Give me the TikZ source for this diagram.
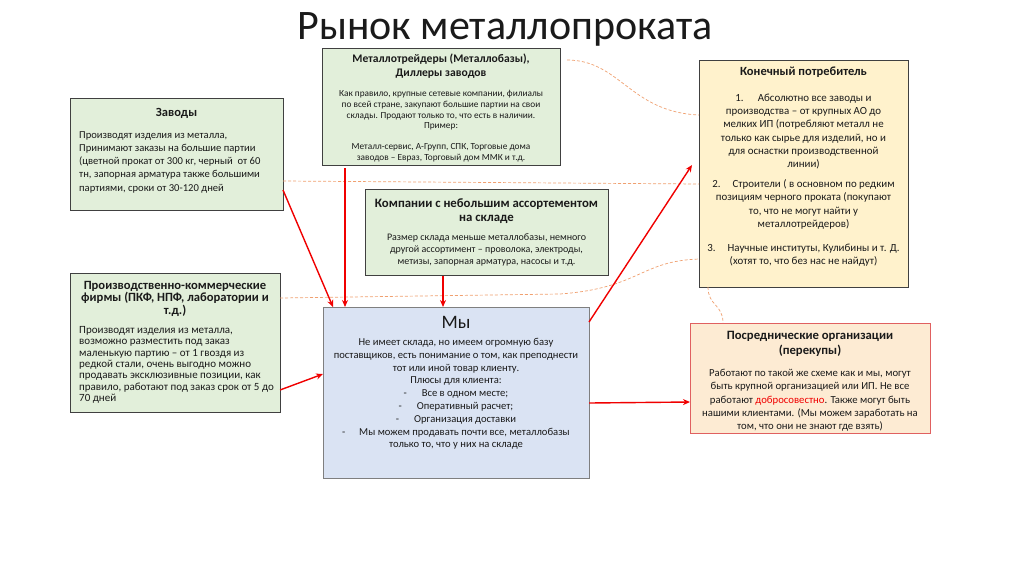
\documentclass[tikz,border=0pt]{standalone}
\usepackage{fontspec}
\setmainfont{Carlito}
\usetikzlibrary{arrows.meta,calc}
\definecolor{gfill}{HTML}{E2EFDA}
\definecolor{yfill}{HTML}{FFF2CC}
\definecolor{bfill}{HTML}{DAE3F3}
\definecolor{pfill}{HTML}{FDEBD3}
\definecolor{pdraw}{HTML}{E06060}
\definecolor{bord}{HTML}{404040}
\definecolor{bbord}{HTML}{7F7F7F}
\definecolor{dashc}{HTML}{F0A070}
\definecolor{arrred}{HTML}{F00000}
\definecolor{txt}{HTML}{1A1A1A}
\begin{document}
\begin{tikzpicture}[x=1pt,y=-1pt,
  box/.style={draw=bord,line width=1pt,inner sep=0,outer sep=0,anchor=north west},
  greenbox/.style={box,fill=gfill},
  yellowbox/.style={box,fill=yfill},
  bluebox/.style={box,fill=bfill,draw=bbord},
  pinkbox/.style={box,fill=pfill,draw=pdraw},
  head/.style={inner sep=0,anchor=north,align=center,text=txt,font=\bfseries\fontsize{12.5}{15}\selectfont},
  body/.style={inner sep=0,anchor=north,align=center,text=txt,font=\fontsize{10.7}{13.3}\selectfont},
  lbody/.style={inner sep=0,anchor=north west,align=left,text=txt,font=\fontsize{10.6}{13.3}\selectfont},
  redarrow/.style={draw=arrred,line width=1.4pt,-{Stealth[length=7pt,width=6pt]}},
  odash/.style={draw=dashc,line width=0.7pt,dash pattern=on 3pt off 2pt}]
\useasboundingbox (0,0) rectangle (1024,574);
\fill[white] (0,0) rectangle (1024,574);

% title
\node[inner sep=0,text=txt,font=\fontsize{42}{42}\selectfont] (title) at (505,29) {Рынок металлопроката};

% boxes
\node[greenbox,minimum width=213pt,minimum height=112pt] (zav) at (70,98) {};
\node[greenbox,minimum width=238pt,minimum height=117pt] (mt) at (322,48) {};
\node[yellowbox,minimum width=209pt,minimum height=227pt] (cons) at (699,60) {};
\node[greenbox,minimum width=210pt,minimum height=139pt] (pkf) at (70,273) {};
\node[greenbox,minimum width=243pt,minimum height=86pt] (komp) at (365,189) {};
\node[bluebox,minimum width=266pt,minimum height=171pt] (mu) at (323,307) {};
\node[pinkbox,minimum width=240pt,minimum height=110pt] (pos) at (690,323) {};

% Заводы
\node[head] (zavh) at (176.5,108) {Заводы};
\node[lbody] (zavt) at (79,131) {Производят изделия из металла,\\Принимают заказы на большие партии\\(цветной прокат от 300 кг, черный\ \ от 60\\тн, запорная арматура также большими\\партиями, сроки от 30-120 дней};

% Металлотрейдеры
\node[head,font=\bfseries\fontsize{11.6}{13.5}\selectfont] (mth) at (441,54) {Металлотрейдеры (Металлобазы),\\Диллеры заводов};
\node[body,font=\fontsize{9.3}{10.6}\selectfont] (mtt) at (441,90.5) {Как правило, крупные сетевые компании, филиалы\\по всей стране, закупают большие партии на свои\\склады. Продают только то, что есть в наличии.\\Пример:\\[10.6pt]Металл-сервис, А-Групп, СПК, Торговые дома\\заводов – Евраз, Торговый дом ММК и т.д.};

% Конечный потребитель
\node[head] (consh) at (803.5,67) {Конечный потребитель};
\node[body,font=\fontsize{10.9}{13.3}\selectfont] (const) at (803.5,93.5) {1.\hspace{1.3em}Абсолютно все заводы и\\производства – от крупных АО до\\мелких ИП (потребляют металл не\\только как сырье для изделий, но и\\для оснастки производственной\\линии)\\[6.5pt]2.\hspace{1.1em}Строители ( в основном по редким\\позициям черного проката (покупают\\то, что не могут найти у\\металлотрейдеров)\\[10.5pt]3.\hspace{1.1em}Научные институты, Кулибины и т. Д.\\(хотят то, что без нас не найдут)};

% ПКФ
\node[head,font=\bfseries\fontsize{12.6}{12.6}\selectfont] (pkfh) at (175,281) {Производственно-коммерческие\\фирмы (ПКФ, НПФ, лаборатории и\\т.д.)};
\node[lbody,font=\fontsize{11}{11.4}\selectfont] (pkft) at (79,326) {Производят изделия из металла,\\возможно разместить под заказ\\маленькую партию – от 1 гвоздя из\\редкой стали, очень выгодно можно\\продавать эксклюзивные позиции, как\\правило, работают под заказ срок от 5 до\\70 дней};

% Компании
\node[head,font=\bfseries\fontsize{12.8}{14.5}\selectfont] (komph) at (486.5,198) {Компании с небольшим ассортементом\\на складе};
\node[body,font=\fontsize{10}{12}\selectfont] (kompt) at (486.5,233) {Размер склада меньше металлобазы, немного\\другой ассортимент – проволока, электроды,\\метизы, запорная арматура, насосы и т.д.};

% Мы
\node[inner sep=0,anchor=north,text=txt,font=\fontsize{19}{19}\selectfont] (muh) at (456,316) {Мы};
\node[body,font=\fontsize{10.6}{12.8}\selectfont] (mut) at (456,338) {Не имеет склада, но имеем огромную базу\\поставщиков, есть понимание о том, как преподнести\\тот или иной товар клиенту.\\Плюсы для клиента:\\-\hspace{1.4em}Все в одном месте;\\-\hspace{1.4em}Оперативный расчет;\\-\hspace{1.4em}Организация доставки\\-\hspace{1.3em}Мы можем продавать почти все, металлобазы\\только то, что у них на складе};

% Посреднические
\node[head,font=\bfseries\fontsize{12.7}{15}\selectfont] (posh) at (810,331) {Посреднические организации\\(перекупы)};
\node[body] (post) at (810,369) {Работают по такой же схеме как и мы, могут\\быть крупной организацией или ИП. Не все\\работают \textcolor{arrred}{добросовестно}. Также могут быть\\нашими клиентами. (Мы можем заработать на\\том, что они не знают где взять)};

% dashed connectors
\draw[odash] ([xshift=7pt,yshift=-12pt]mt.north east) .. controls (620,60) and (630,112) .. ([yshift=-55pt]cons.north west);
\draw[odash] ([yshift=29pt]zav.south east) -- ([yshift=-124pt]cons.north west);
\draw[odash] ([yshift=-25pt]pkf.north east) -- (560,294) .. controls (640,288) and (640,261) .. ([yshift=28pt]cons.south west);
\draw[odash] ([xshift=9pt]cons.south west) .. controls (708,306) and (723,304) .. ([xshift=33pt]pos.north west);

% red arrows
\draw[redarrow] ([yshift=20pt]zav.south east) -- ([xshift=10pt]mu.north west);
\draw[redarrow] ([xshift=23pt,yshift=-3pt]mt.south west) -- ([xshift=22pt]mu.north west);
\draw[redarrow] ([xshift=78pt,yshift=-1pt]komp.south west) -- ([xshift=120pt]mu.north west);
\draw[redarrow] ([yshift=-15pt]mu.north east) -- ([xshift=-7pt,yshift=-105pt]cons.north west);
\draw[redarrow] ([yshift=-10.5pt]mu.east) -- ([yshift=-24pt]pos.west);
\draw[redarrow] ([yshift=22pt]pkf.south east) -- ([yshift=104pt]mu.south west);
\end{tikzpicture}
\end{document}
